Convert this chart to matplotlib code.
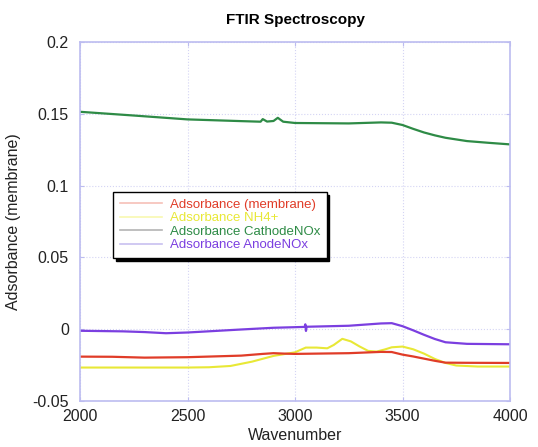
import matplotlib
matplotlib.use("Agg")
import matplotlib.pyplot as plt
from matplotlib.lines import Line2D
from matplotlib.ticker import FuncFormatter

plt.rcParams['font.family'] = ['Liberation Sans', 'DejaVu Sans']

# values
wn_cathode = [2000, 2250, 2500, 2750, 2840, 2850, 2870, 2900, 2920, 2945, 3000,
              3250, 3400, 3450, 3500, 3550, 3600, 3650, 3700, 3800, 3900, 4000]
abs_cathode = [0.1514, 0.1488, 0.1461, 0.1449, 0.1445, 0.1463, 0.1446, 0.1450,
               0.1472, 0.1445, 0.1436, 0.1433, 0.1440, 0.1438, 0.1422, 0.1395,
               0.1370, 0.1350, 0.1333, 0.1310, 0.1298, 0.1287]

wn_anode = [2000, 2200, 2300, 2400, 2500, 2750, 2900, 3000, 3045, 3048, 3051,
            3054, 3250, 3400, 3450, 3500, 3550, 3600, 3650, 3700, 3800, 4000]
abs_anode = [-0.0011, -0.0015, -0.0020, -0.0028, -0.0023, -0.0002, 0.0010,
             0.0014, 0.0016, 0.0034, -0.0012, 0.0017, 0.0024, 0.0040, 0.0042,
             0.0021, -0.0008, -0.0039, -0.0068, -0.0091, -0.0102, -0.0105]

wn_membrane = [2000, 2150, 2300, 2500, 2750, 2850, 2900, 2950, 3000, 3250,
               3400, 3450, 3500, 3550, 3600, 3650, 3700, 3800, 4000]
abs_membrane = [-0.0191, -0.0192, -0.0198, -0.0195, -0.0184, -0.0172, -0.0167,
                -0.0170, -0.0172, -0.0167, -0.0158, -0.0159, -0.0177, -0.0190,
                -0.0205, -0.0220, -0.0233, -0.0234, -0.0235]

wn_nh4 = [2000, 2500, 2600, 2700, 2800, 2900, 3000, 3050, 3100, 3150, 3180,
          3220, 3260, 3300, 3340, 3380, 3420, 3450, 3500, 3550, 3600, 3650,
          3700, 3750, 3850, 4000]
abs_nh4 = [-0.0267, -0.0267, -0.0265, -0.0256, -0.0226, -0.0186, -0.0161,
           -0.0128, -0.0128, -0.0133, -0.0110, -0.0067, -0.0085, -0.0120,
           -0.0151, -0.0156, -0.0140, -0.0126, -0.0121, -0.0140, -0.0170,
           -0.0207, -0.0235, -0.0253, -0.0260, -0.0260]

labels = ['Adsorbance (membrane)', 'Adsorbance NH4+',
          'Adsorbance CathodeNOx', 'Adsorbance AnodeNOx']
line_colors = ['#e03c28', '#e8e836', '#2e8b46', '#7b3fe0']
pale_colors = ['#f6c0b8', '#f8f8b0', '#b4b4b4', '#c8c0f0']

x_ticks = [2000, 2500, 3000, 3500, 4000]
y_ticks = [-0.05, 0, 0.05, 0.1, 0.15, 0.2]

fig = plt.figure(figsize=(5.38, 4.47), dpi=100)
ax = fig.add_axes([80 / 538, 46 / 447, 430 / 538, 359 / 447])

ax.plot(wn_nh4, abs_nh4, color=line_colors[1], lw=1.5)
ax.plot(wn_membrane, abs_membrane, color=line_colors[0], lw=1.6)
ax.plot(wn_anode, abs_anode, color=line_colors[3], lw=1.6)
ax.plot(wn_cathode, abs_cathode, color=line_colors[2], lw=1.6)

ax.set_xlim(2000, 4000)
ax.set_ylim(-0.05, 0.2)
ax.set_xticks(x_ticks)
ax.set_yticks(y_ticks)
ax.yaxis.set_major_formatter(FuncFormatter(lambda v, p: '%g' % v))
ax.grid(True, color='#d4d4f4', linestyle=':', linewidth=0.8)
for s in ax.spines.values():
    s.set_color('#bcbcf0')
    s.set_linewidth(1.2)
ax.tick_params(direction='in', length=3, color='#bcbcf0', labelsize=11.5,
               labelcolor='#222222', top=True, right=True)
ax.tick_params(axis='y', pad=8)
ax.tick_params(axis='x', pad=6)

ax.set_title('FTIR Spectroscopy', fontsize=11, fontweight='bold', pad=13)
ax.set_xlabel('Wavenumber', fontsize=11.5, labelpad=3, color='#222222')
ax.set_ylabel('Adsorbance (membrane)', fontsize=11.5, labelpad=8, color='#222222')

handles = [Line2D([], [], color=c, lw=1.2) for c in pale_colors]
leg = ax.legend(handles, labels, loc='upper left',
                bbox_to_anchor=(33 / 430, (401 - 192) / 359),
                fontsize=9.5, frameon=True, fancybox=False, framealpha=1,
                edgecolor='black', shadow={'color': 'black', 'alpha': 1},
                labelspacing=0.1, handlelength=3.2, handletextpad=0.6,
                borderpad=0.5, borderaxespad=0)
leg.get_frame().set_linewidth(1.0)
for t, c in zip(leg.get_texts(), line_colors):
    t.set_color(c)

fig.savefig('out.png', dpi=100)
